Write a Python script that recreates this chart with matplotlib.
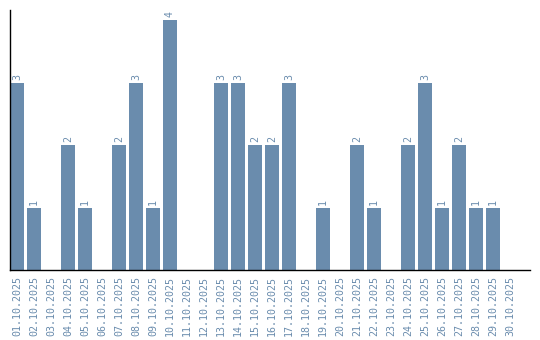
import matplotlib
matplotlib.use("Agg")
import matplotlib.pyplot as plt

dates = [f"{d:02d}.10.2025" for d in range(1, 31)]
values = [3, 1, 0, 2, 1, 0, 2, 3, 1, 4, 0, 0, 3, 3, 2, 2, 3, 0, 1, 0,
          2, 1, 0, 2, 3, 1, 2, 1, 1, 0]

color = "#6a8cad"
fig = plt.figure(figsize=(5.4, 3.4), dpi=100)
ax = fig.add_axes([10/540, 70/340, 520/540, 260/340])
x = list(range(len(dates)))
ax.bar(x, values, width=14/17, color=color)
ax.set_xlim(-7/17, -7/17 + 520/17)
ax.set_ylim(0, 4.16)
for xi, v in zip(x, values):
    if v > 0:
        ax.annotate(str(v), (xi, v), xytext=(0, 2), textcoords="offset points",
                    rotation=90, ha="center", va="bottom", color=color,
                    fontsize=7.2, family="DejaVu Sans Mono")
ax.set_xticks(x)
ax.set_xticklabels(dates, rotation=90, family="DejaVu Sans Mono", fontsize=7.2, color=color)
ax.tick_params(axis="x", length=0, pad=4)
ax.set_yticks([])
ax.spines["top"].set_visible(False)
ax.spines["right"].set_visible(False)
ax.spines["left"].set_linewidth(1)
ax.spines["bottom"].set_linewidth(1)
fig.savefig("out.png", dpi=100)
